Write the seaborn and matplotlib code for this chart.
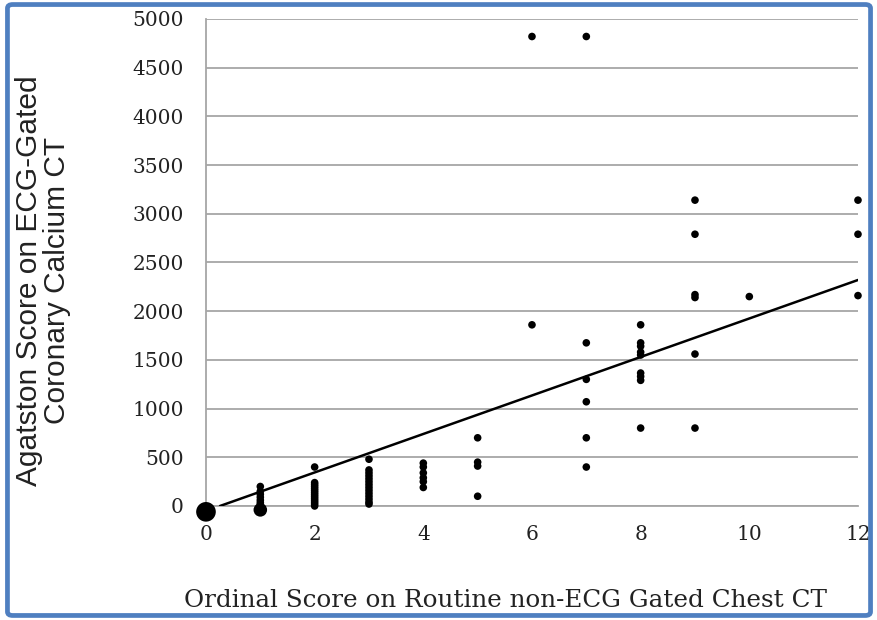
import numpy as np
import pandas as pd
import matplotlib
matplotlib.use("Agg")
import matplotlib.pyplot as plt
from matplotlib.patches import FancyBboxPatch
import seaborn as sns

# ordinal score (routine CT) vs Agatston score (gated CT)
ordinal_score = (
    [1] * 7
    + [2] * 14
    + [3] * 14
    + [4] * 6
    + [5] * 4
    + [6] * 2
    + [7] * 6
    + [8] * 9
    + [9] * 6
    + [10]
    + [12] * 3
)
agatston_score = (
    [200, 150, 120, 90, 60, 35, 15]
    + [400, 240, 220, 200, 180, 160, 140, 120, 100, 80, 60, 40, 20, 0]
    + [480, 370, 340, 310, 280, 250, 220, 190, 160, 130, 100, 70, 40, 20]
    + [440, 400, 340, 290, 250, 190]
    + [700, 450, 410, 100]
    + [4820, 1860]
    + [4820, 1675, 1300, 1070, 700, 400]
    + [1860, 1675, 1640, 1580, 1550, 1365, 1330, 1290, 800]
    + [3140, 2790, 2170, 2140, 1560, 800]
    + [2150]
    + [3140, 2790, 2160]
)

# dense piles of zero scores at the low end
pile_ordinal = [0, 1]
pile_agatston = [-60, -40]

# linear trend line as printed
trend_slope = 197.6
trend_intercept = -51.0

x_ticks = [0, 2, 4, 6, 8, 10, 12]
y_ticks = list(range(0, 5001, 500))

df = pd.DataFrame({"ordinal": ordinal_score, "agatston": agatston_score})
piles = pd.DataFrame({"ordinal": pile_ordinal, "agatston": pile_agatston})

sns.set_style("white")
grid_grey = "#a6a6a6"

fig = plt.figure(figsize=(8.78, 6.2), dpi=100)
ax = fig.add_axes([0.2346, 0.1839, 0.7426, 0.7855])

ax.set_xlim(0, 12)
ax.set_ylim(0, 5000)
ax.set_xticks(x_ticks)
ax.set_yticks(y_ticks)
ax.yaxis.grid(True, color=grid_grey, linewidth=1.3)
ax.xaxis.grid(False)
ax.set_axisbelow(True)

for side in ["top", "right"]:
    ax.spines[side].set_visible(False)
for side in ["left", "bottom"]:
    ax.spines[side].set_color(grid_grey)
    ax.spines[side].set_linewidth(1.3)

ax.tick_params(axis="both", direction="out", length=6, width=1.1, color=grid_grey,
               labelsize=14.5, labelcolor="#222222")
ax.tick_params(axis="y", pad=10)
ax.tick_params(axis="x", pad=8)
for lab in ax.get_xticklabels() + ax.get_yticklabels():
    lab.set_family("DejaVu Serif")

xs = np.array([-trend_intercept / trend_slope, 12])
ax.plot(xs, trend_slope * xs + trend_intercept, color="black", linewidth=1.8, zorder=3)

sns.scatterplot(data=df, x="ordinal", y="agatston", ax=ax, color="black",
                s=30, edgecolor="none", clip_on=False, zorder=4)
sns.scatterplot(x=piles["ordinal"].iloc[:1], y=piles["agatston"].iloc[:1], ax=ax,
                color="black", s=200, edgecolor="none", clip_on=False, zorder=4)
sns.scatterplot(x=piles["ordinal"].iloc[1:], y=piles["agatston"].iloc[1:], ax=ax,
                color="black", s=95, edgecolor="none", clip_on=False, zorder=4)

ax.set_xlabel("")
ax.set_ylabel("")
fig.text(0.576, 0.032, "Ordinal Score on Routine non-ECG Gated Chest CT",
         ha="center", va="center", fontsize=17.7, family="DejaVu Serif", color="#222222")
fig.text(0.049, 0.547, "Agatston Score on ECG-Gated\nCoronary Calcium CT",
         ha="center", va="center", rotation=90, fontsize=21.5, linespacing=1.0,
         family="Liberation Sans", color="#222222")

border = FancyBboxPatch((0.0085, 0.0073), 0.983, 0.9854,
                        boxstyle="round,pad=0,rounding_size=0.006",
                        transform=fig.transFigure, facecolor="none",
                        edgecolor="#4f7fc0", linewidth=3.4, zorder=10)
fig.patches.append(border)

fig.savefig("out.png", dpi=100)
